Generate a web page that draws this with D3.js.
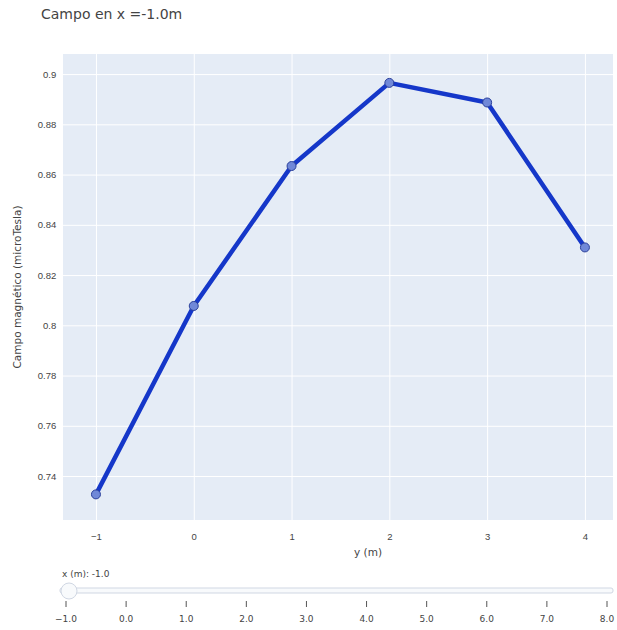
<!DOCTYPE html>
<html><head><meta charset="utf-8">
<script src="https://cdn.jsdelivr.net/npm/d3@7"></script>
<style>body{margin:0;background:#fff;}svg{display:block;font-family:"DejaVu Sans",Verdana,sans-serif;}</style>
</head><body>
<svg id="c" width="617" height="630"></svg>
<script>
const yPositions = [-1, 0, 1, 2, 3, 4];
const fieldValues = [0.7327, 0.8077, 0.8634, 0.8965, 0.8887, 0.831];
const yTicks = [0.74, 0.76, 0.78, 0.8, 0.82, 0.84, 0.86, 0.88, 0.9];
const xTicks = [-1, 0, 1, 2, 3, 4];
const sliderSteps = [-1, 0, 1, 2, 3, 4, 5, 6, 7, 8];
const titleText = "Campo en x =-1.0m";
const xLabel = "y (m)";
const yLabel = "Campo magnético (microTesla)";
const sliderLabel = "x (m): -1.0";
const currentX = -1;

const svg = d3.select("#c");
const L = 63, R = 613, T = 54, B = 520;
const x = d3.scaleLinear().domain([-1.337, 4.287]).range([L, R]);
const y = d3.scaleLinear().domain([0.7225, 0.908]).range([B, T]);

svg.append("rect").attr("x", L).attr("y", T).attr("width", R - L).attr("height", B - T).attr("fill", "#E5ECF6");

const gx = svg.append("g").attr("transform", `translate(0,${B})`)
  .call(d3.axisBottom(x).tickValues(xTicks).tickSize(-(B - T)).tickFormat(d => d < 0 ? "\u2212" + Math.abs(d) : d));
gx.select(".domain").remove();
gx.selectAll("line").attr("stroke", "#fff").attr("stroke-width", 1);
gx.selectAll("text").attr("fill", "#444").attr("font-size", 9.5).attr("dy", "1.8em");

const gy = svg.append("g").attr("transform", `translate(${L},0)`)
  .call(d3.axisLeft(y).tickValues(yTicks).tickSize(-(R - L)).tickFormat(d3.format("")));
gy.select(".domain").remove();
gy.selectAll("line").attr("stroke", "#fff").attr("stroke-width", 1);
gy.selectAll("text").attr("fill", "#444").attr("font-size", 9.5).attr("dx", "-0.4em");

const data = yPositions.map((v, i) => [v, fieldValues[i]]);
svg.append("path").datum(data)
  .attr("d", d3.line().x(d => x(d[0])).y(d => y(d[1])))
  .attr("fill", "none").attr("stroke", "#1537c9").attr("stroke-width", 4.5).attr("stroke-linejoin", "round");
svg.selectAll("circle.pt").data(data).join("circle").attr("class", "pt")
  .attr("cx", d => x(d[0])).attr("cy", d => y(d[1])).attr("r", 4.5)
  .attr("fill", "#7088d8").attr("stroke", "#2a3f9a").attr("stroke-width", 1);

svg.append("text").attr("x", 41).attr("y", 19).attr("fill", "#444").attr("font-size", 14).text(titleText);
svg.append("text").attr("x", (L + R) / 2 + 30).attr("y", 556).attr("text-anchor", "middle").attr("fill", "#444").attr("font-size", 10.5).text(xLabel);
svg.append("text").attr("transform", `translate(21,${(T + B) / 2}) rotate(-90)`).attr("text-anchor", "middle").attr("fill", "#444").attr("font-size", 10.5).text(yLabel);

// slider
const s = d3.scaleLinear().domain([-1, 8]).range([66, 607]);
svg.append("text").attr("x", 62).attr("y", 577).attr("fill", "#444").attr("font-size", 9).text(sliderLabel);
svg.append("rect").attr("x", 60).attr("y", 588).attr("width", 553).attr("height", 5).attr("rx", 2)
  .attr("fill", "#f8fafc").attr("stroke", "#d0d7e3").attr("stroke-width", 1);
svg.selectAll("line.st").data(sliderSteps).join("line").attr("class", "st")
  .attr("x1", d => s(d)).attr("x2", d => s(d)).attr("y1", 601).attr("y2", 607)
  .attr("stroke", "#555").attr("stroke-width", 1);
svg.selectAll("text.sl").data(sliderSteps).join("text").attr("class", "sl")
  .attr("x", d => s(d)).attr("y", 622).attr("text-anchor", "middle").attr("fill", "#444").attr("font-size", 9)
  .text(d => d3.format(".1f")(d));
svg.append("circle").attr("cx", s(currentX) + 3).attr("cy", 591).attr("r", 8)
  .attr("fill", "#f8fafc").attr("stroke", "#d0d7e3").attr("stroke-width", 1);
</script>
</body></html>
